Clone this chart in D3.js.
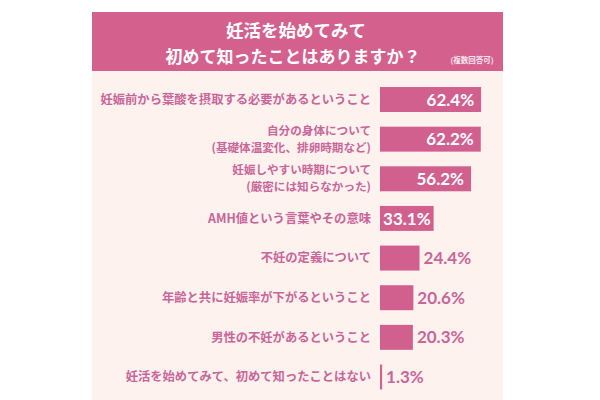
<!DOCTYPE html>
<html><head><meta charset="utf-8">
<script src="https://cdn.jsdelivr.net/npm/d3@7/dist/d3.min.js"></script>
<style>
html,body{margin:0;padding:0;background:#fff;}
svg{display:block;}
</style></head>
<body>
<svg id="chart" width="600" height="400"></svg>
<script>
const titleLines = ["妊活を始めてみて", "初めて知ったことはありますか？"];
const titleNote = "(複数回答可)";
const categories = [
  "妊娠前から葉酸を摂取する必要があるということ",
  "自分の身体について\n(基礎体温変化、排卵時期など)",
  "妊娠しやすい時期について\n(厳密には知らなかった)",
  "AMH値という言葉やその意味",
  "不妊の定義について",
  "年齢と共に妊娠率が下がるということ",
  "男性の不妊があるということ",
  "妊活を始めてみて、初めて知ったことはない"
];
const values = [62.4, 62.2, 56.2, 33.1, 24.4, 20.6, 20.3, 1.3];

const svg = d3.select("#chart");
const jp = "'Noto Sans CJK JP','Noto Sans',sans-serif";
const num = "Lato,'Open Sans',sans-serif";
const pink = "#d2608f";
const textPink = "#c8669a";

// panel
svg.append("rect").attr("x", 92).attr("y", 12).attr("width", 411).attr("height", 388).attr("fill", "#fdf2ee");
svg.append("rect").attr("x", 92).attr("y", 12).attr("width", 411).attr("height", 59).attr("fill", "#d4608e");

svg.append("text").attr("x", 296).attr("y", 37).attr("text-anchor", "middle")
  .attr("font-family", jp).attr("font-weight", 700).attr("font-size", 17.5).attr("fill", "#fff")
  .text(titleLines[0]);
svg.append("text").attr("x", 293).attr("y", 63).attr("text-anchor", "middle")
  .attr("font-family", jp).attr("font-weight", 700).attr("font-size", 17).attr("fill", "#fff")
  .text(titleLines[1]);
svg.append("text").attr("x", 472).attr("y", 63).attr("text-anchor", "middle")
  .attr("font-family", jp).attr("font-weight", 700).attr("font-size", 7.5).attr("fill", "#fbe6ee")
  .text(titleNote);

const x = d3.scaleLinear().domain([0, 100]).range([380, 542]);
const y = d3.scaleBand().domain(d3.range(categories.length))
  .range([79.7, 396.8]).paddingInner(0.37).paddingOuter(0.185);

const g = svg.append("g");
g.selectAll("rect.bar").data(values).join("rect").attr("class", "bar")
  .attr("x", x(0)).attr("y", (d, i) => y(i))
  .attr("width", d => x(d) - x(0)).attr("height", y.bandwidth())
  .attr("fill", pink);

// category labels
categories.forEach((c, i) => {
  const lines = c.split("\n");
  const multi = lines.length > 1;
  const cy = y(i) + y.bandwidth() / 2;
  lines.forEach((l, k) => {
    g.append("text").attr("text-anchor", "end")
      .attr("font-family", jp).attr("font-weight", 700).attr("font-size", multi ? 11.6 : 12.3)
      .attr("fill", textPink)
      .attr("x", x(0) - 9)
      .attr("y", cy + (k - (lines.length - 1) / 2) * 17)
      .attr("dy", "0.36em").text(l);
  });
});

// value labels
values.forEach((v, i) => {
  const inside = v >= 30;
  const cy = y(i) + y.bandwidth() / 2;
  const t = g.append("text")
    .attr("y", cy).attr("dy", "0.36em")
    .attr("text-anchor", inside ? "end" : "start")
    .attr("font-family", num).attr("font-weight", 700).attr("font-size", 17)
    .attr("fill", inside ? "#fff" : textPink)
    .text(v.toFixed(1) + "%");
  if (inside) {
    const w = t.node().getComputedTextLength();
    const bw = x(v) - x(0);
    const inset = Math.min(7, Math.max(0, (bw - w) / 2));
    t.attr("x", x(v) - inset);
  } else {
    t.attr("x", x(v) + 4);
  }
});
</script>
</body></html>
